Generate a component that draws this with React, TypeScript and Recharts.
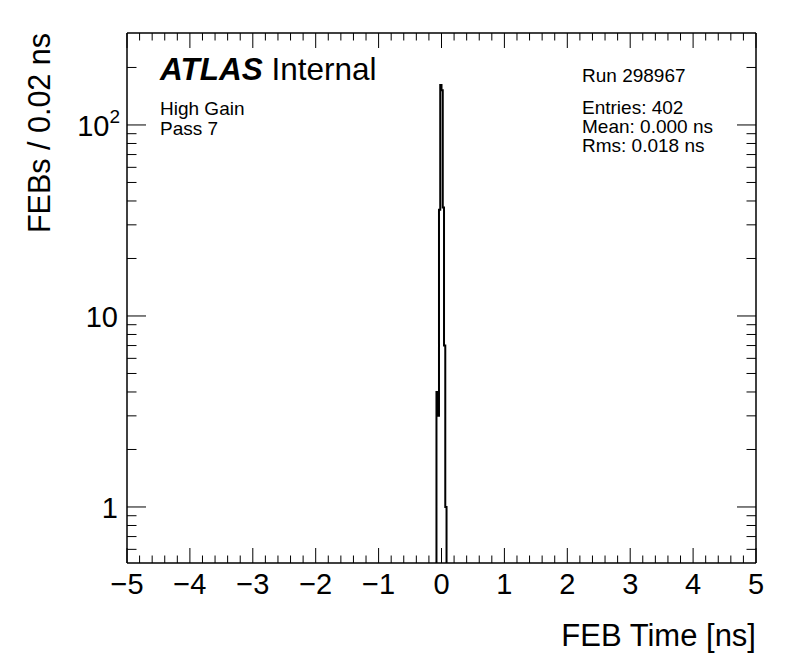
import React from 'react';
import { LineChart, Line, XAxis, YAxis } from 'recharts';

// FEB time histogram, 0.02 ns bins (only the filled bins are listed)
const binLowEdges = [-0.08, -0.06, -0.04, -0.02, 0.0, 0.02, 0.04, 0.06];
const febCounts = [4, 3, 36, 162, 152, 37, 7, 1];
const binWidth = 0.02;

const xMajorTicks = [-5, -4, -3, -2, -1, 0, 1, 2, 3, 4, 5];
const yMajorTicks = [1, 10, 100];
const yMinorTicks = [0.6, 0.7, 0.8, 0.9, 2, 3, 4, 5, 6, 7, 8, 9, 20, 30, 40, 50, 60, 70, 80, 90, 200];
const yTickLabels: Record<number, string> = { 1: '1', 10: '10', 100: '10^2' };

const statLines = ['Entries: 402', 'Mean: 0.000 ns', 'Rms: 0.018 ns'];

const FONT = '"Liberation Sans", Arial, Helvetica, sans-serif';
const FLOOR = 0.1; // below the frame, clipped away

const xMinorTicks: number[] = [];
xMajorTicks.slice(0, -1).forEach((m) => {
  for (let j = 1; j < 5; j++) xMinorTicks.push(Math.round((m + j * 0.2) * 10) / 10);
});
const xAllTicks = [...xMajorTicks, ...xMinorTicks].sort((a, b) => a - b);
const yAllTicks = [...yMajorTicks, ...yMinorTicks].sort((a, b) => a - b);

const lastEdge = binLowEdges[binLowEdges.length - 1] + binWidth;
const histData = [
  { t: binLowEdges[0], n: FLOOR },
  ...binLowEdges.map((e, i) => ({ t: e, n: febCounts[i] })),
  { t: lastEdge, n: FLOOR },
];

const fmtX = (v: number) => (v < 0 ? '\u2212' + Math.abs(v) : String(v));

function XTick(props: any) {
  const { x, y, payload, top } = props;
  const major = xMajorTicks.includes(payload.value);
  const len = major ? 15 : 7.5;
  const dir = top ? 1 : -1;
  return (
    <g>
      <line x1={x} x2={x} y1={y} y2={y + dir * len} stroke="#000" strokeWidth={1} />
      {major && !top && (
        <text x={x} y={y + 30.5} textAnchor="middle" fontSize={29} fontFamily={FONT} fill="#000">
          {fmtX(payload.value)}
        </text>
      )}
    </g>
  );
}

function YTick(props: any) {
  const { x, y, payload, right } = props;
  const major = yMajorTicks.includes(payload.value);
  const len = major ? 19 : 9.5;
  const dir = right ? -1 : 1;
  const label = yTickLabels[payload.value];
  return (
    <g>
      <line x1={x} x2={x + dir * len} y1={y} y2={y} stroke="#000" strokeWidth={1} />
      {major && !right && label === '10^2' && (
        <text x={x - 7} y={y + 11} textAnchor="end" fontSize={29} fontFamily={FONT} fill="#000">
          <tspan>10</tspan>
          <tspan dy={-13} fontSize={19}>2</tspan>
        </text>
      )}
      {major && !right && label !== '10^2' && (
        <text x={x - 9} y={y + 11} textAnchor="end" fontSize={29} fontFamily={FONT} fill="#000">
          {label}
        </text>
      )}
    </g>
  );
}

export default function App() {
  return (
    <div style={{ position: 'absolute', left: 0, top: 0, width: 796, height: 672, background: '#fff' }}>
      <LineChart
        width={796}
        height={672}
        data={histData}
        margin={{ top: 32, right: 39, bottom: 0, left: 0 }}
      >
        <XAxis
          xAxisId="b"
          dataKey="t"
          type="number"
          domain={[-5, 5]}
          ticks={xAllTicks}
          interval={0}
          height={109}
          tickSize={0}
          tickMargin={0}
          tickLine={false}
          axisLine={{ stroke: '#000', strokeWidth: 1.5 }}
          tick={<XTick />}
          allowDataOverflow
        />
        <XAxis
          xAxisId="t"
          orientation="top"
          dataKey="t"
          type="number"
          domain={[-5, 5]}
          ticks={xAllTicks}
          interval={0}
          height={1}
          tickSize={0}
          tickMargin={0}
          tickLine={false}
          axisLine={{ stroke: '#000', strokeWidth: 1.5 }}
          tick={<XTick top />}
          allowDataOverflow
        />
        <YAxis
          yAxisId="l"
          scale="log"
          type="number"
          domain={[0.509, 303]}
          ticks={yAllTicks}
          interval={0}
          width={127}
          tickSize={0}
          tickMargin={0}
          tickLine={false}
          axisLine={{ stroke: '#000', strokeWidth: 1.5 }}
          tick={<YTick />}
          allowDataOverflow
        />
        <YAxis
          yAxisId="r"
          orientation="right"
          scale="log"
          type="number"
          domain={[0.509, 303]}
          ticks={yAllTicks}
          interval={0}
          width={1}
          tickSize={0}
          tickMargin={0}
          tickLine={false}
          axisLine={{ stroke: '#000', strokeWidth: 1.5 }}
          tick={<YTick right />}
          allowDataOverflow
        />
        <Line
          xAxisId="b"
          yAxisId="l"
          dataKey="n"
          type="stepAfter"
          stroke="#000"
          strokeWidth={2}
          dot={false}
          isAnimationActive={false}
        />
      </LineChart>
      <svg
        width={796}
        height={672}
        style={{ position: 'absolute', left: 0, top: 0, pointerEvents: 'none' }}
        fontFamily={FONT}
      >
        <text x={160} y={80} fontSize={31.5} fill="#000">
          <tspan fontWeight="bold" fontStyle="italic">ATLAS</tspan>
          <tspan> Internal</tspan>
        </text>
        <text x={160} y={115} fontSize={19} fill="#000">High Gain</text>
        <text x={160} y={134.5} fontSize={19} fill="#000">Pass 7</text>
        <text x={582} y={82} fontSize={19} fill="#000">Run 298967</text>
        {statLines.map((s, i) => (
          <text key={s} x={582} y={114 + i * 19} fontSize={19} fill="#000">
            {s}
          </text>
        ))}
        <text x={756} y={646} textAnchor="end" fontSize={31} fill="#000">
          FEB Time [ns]
        </text>
        <text
          transform="translate(50,33) rotate(-90)"
          textAnchor="end"
          fontSize={30.5}
          fill="#000"
        >
          FEBs / 0.02 ns
        </text>
      </svg>
    </div>
  );
}
